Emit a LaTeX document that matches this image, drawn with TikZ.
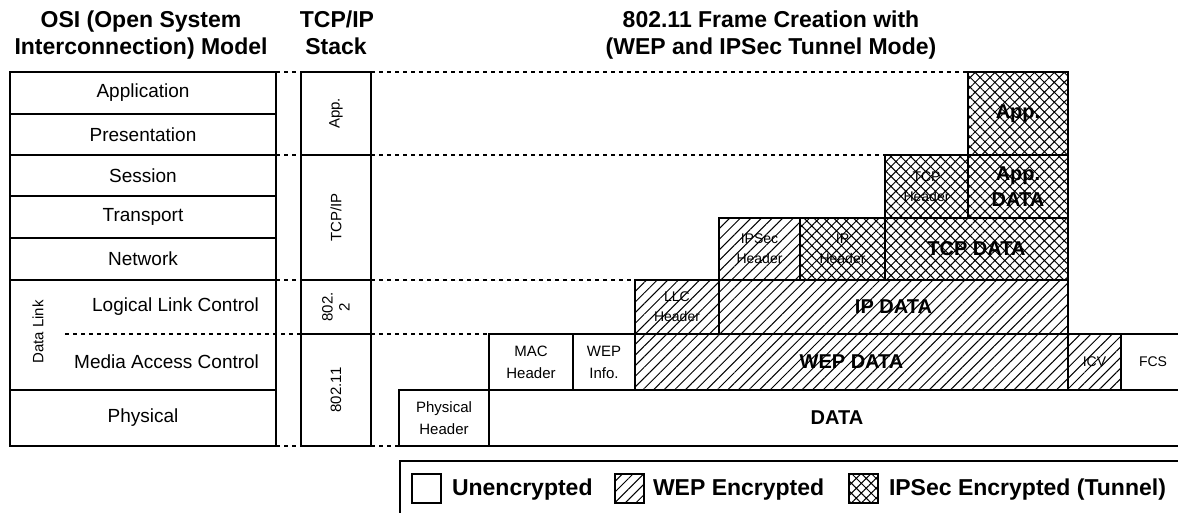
\documentclass[tikz,border=0pt]{standalone}
\usepackage{fontspec}
\setmainfont{Liberation Sans}
\usetikzlibrary{patterns.meta}
\tikzset{
 every node/.style={inner sep=0pt, outer sep=0pt},
 layer/.style={draw, line width=1.8pt, rectangle, minimum width=266pt, font=\fontsize{19}{22}\selectfont},
 tbox/.style={draw, line width=1.8pt, rectangle, minimum width=70pt},
 fbox/.style={draw, line width=1.5pt, rectangle, align=center},
 weppat/.style={pattern={Lines[angle=45,distance=7.5pt,line width=1pt]}},
 ipsecpat/.style={pattern={Hatch[angle=45,distance=7pt,line width=1pt]}},
 wepfill/.style={fbox, weppat},
 ipsecfill/.style={fbox, ipsecpat},
 sepline/.style={line width=1.3pt, dash pattern=on 4pt off 4pt},
 laylab/.style={font=\fontsize{19}{22}\selectfont},
 tlab/.style={rotate=90, align=center, font=\fontsize{15}{17}\selectfont},
 bigtxt/.style={font=\bfseries\fontsize{20}{26}\selectfont},
 smalltxt/.style={font=\fontsize{14}{20}\selectfont},
 medtxt/.style={font=\fontsize{15}{22}\selectfont},
 titletxt/.style={font=\bfseries\fontsize{23}{27}\selectfont, anchor=base},
 legsq/.style={draw, line width=1.5pt, rectangle, minimum size=29pt},
 legtxt/.style={font=\bfseries\fontsize{23}{27}\selectfont, anchor=base west},
}
\begin{document}
\begin{tikzpicture}[x=1pt,y=-1pt]
\useasboundingbox (0,0) rectangle (1178,513);
\fill[white] (0,0) rectangle (1178,513);
\clip (0,0) rectangle (1178,513);

% titles
\node[titletxt] (osi1) at (141,28) {OSI (Open System};
\node[titletxt] (osi2) at (141,55) {Interconnection) Model};
\node[titletxt] (tcp1) at (337,28) {TCP/IP};
\node[titletxt] (tcp2) at (336,55) {Stack};
\node[titletxt] (fr1) at (771,28) {802.11 Frame Creation with};
\node[titletxt] (fr2) at (771,55) {(WEP and IPSec Tunnel Mode)};

% OSI model
\node[layer, minimum height=42pt] (app) at (143,93) {Application};
\node[layer, minimum height=41pt] (pres) at (143,134.5) {Presentation};
\node[layer, minimum height=41pt] (sess) at (143,175.5) {Session};
\node[layer, minimum height=42pt] (trans) at (143,217) {Transport};
\node[layer, minimum height=42pt] (net) at (143,259) {Network};
\node[layer, minimum height=110pt] (dl) at (143,335) {};
\node[layer, minimum height=56pt] (phys) at (143,418) {Physical};
\node[rotate=90, font=\fontsize{15}{17}\selectfont] (dlab) at (38,332) {Data Link};
\node[laylab, anchor=east] (llc) at (259,307) {Logical Link Control};
\node[laylab, anchor=east] (mac) at (259,362) {Media Access Control};
\coordinate (dlsplit) at (65,334);

% TCP/IP stack
\node[tbox, minimum height=83pt] (tapp) at (336,113.5) {};
\node[tbox, minimum height=125pt] (ttcp) at (336,217.5) {};
\node[tbox, minimum height=54pt] (t8022) at (336,307) {};
\node[tbox, minimum height=112pt] (t80211) at (336,390) {};
\node[tlab] (ltapp) at (tapp) {App.};
\node[tlab] (lttcp) at (ttcp) {TCP/IP};
\node[tlab] (lt8022) at (t8022) {802.\\2};
\node[tlab] (lt80211) at (t80211) {802.11};

% frame
\node[ipsecfill, bigtxt, minimum width=100pt, minimum height=83pt] (fapp) at (1018,113.5) {App.};
\node[ipsecfill, smalltxt, minimum width=83pt, minimum height=63pt] (ftcph) at (926.5,186.5) {TCP\\Header};
\node[ipsecfill, bigtxt, minimum width=100pt, minimum height=63pt] (fappdata) at (1018,186.5) {App.\\DATA};
\node[wepfill, smalltxt, minimum width=81pt, minimum height=62pt] (fipsec) at (759.5,249) {IPSec\\Header};
\node[ipsecfill, smalltxt, minimum width=85pt, minimum height=62pt] (fiph) at (842.5,249) {IP\\Header};
\node[ipsecfill, bigtxt, minimum width=183pt, minimum height=62pt] (ftcpdata) at (976.5,249) {TCP DATA};
\node[wepfill, smalltxt, minimum width=84pt, minimum height=54pt] (fllc) at (677,307) {LLC\\Header};
\node[wepfill, bigtxt, minimum width=349pt, minimum height=54pt] (fipdata) at (893.5,307) {IP DATA};
\node[fbox, medtxt, minimum width=84pt, minimum height=56pt] (fmac) at (531,362) {MAC\\Header};
\node[fbox, medtxt, minimum width=62pt, minimum height=56pt] (fwepi) at (604,362) {WEP\\Info.};
\node[wepfill, bigtxt, minimum width=433pt, minimum height=56pt] (fwepdata) at (851.5,362) {WEP DATA};
\node[wepfill, smalltxt, minimum width=53pt, minimum height=56pt] (ficv) at (1094.5,362) {ICV};
\node[fbox, smalltxt, minimum width=64pt, minimum height=56pt] (ffcs) at (1153,362) {FCS};
\node[fbox, medtxt, minimum width=90pt, minimum height=56pt] (fphy) at (444,418) {Physical\\Header};
\node[fbox, bigtxt, minimum width=696pt, minimum height=56pt] (fdata) at (837,418) {DATA};

% dashed separators
\draw[sepline] (app.north east) -- (tapp.north west);
\draw[sepline] (tapp.north east) -- (fapp.north west);
\draw[sepline] (pres.south east) -- (ttcp.north west);
\draw[sepline] (tapp.south east) -- (ftcph.north west);
\draw[sepline] (net.south east) -- (t8022.north west);
\draw[sepline] (t8022.north east) -- (fllc.north west);
\draw[sepline] (dlsplit) -- (t80211.north west);
\draw[sepline] (t80211.north east) -- (fmac.north west);
\draw[sepline] (phys.south east) -- (t80211.south west);
\draw[sepline] (t80211.south east) -- (fphy.south west);

% legend
\node[draw, line width=1.5pt, rectangle, minimum width=800pt, minimum height=69pt] (legend) at (800,495.5) {};
\node[legsq] (sq1) at (426.5,488.5) {};
\node[legtxt] (lt1) at (452,495) {Unencrypted};
\node[legsq, weppat] (sq2) at (629.5,488.5) {};
\node[legtxt] (lt2) at (653,495) {WEP Encrypted};
\node[legsq, ipsecpat] (sq3) at (863.5,488.5) {};
\node[legtxt] (lt3) at (889,495) {IPSec Encrypted (Tunnel)};
\end{tikzpicture}
\end{document}
